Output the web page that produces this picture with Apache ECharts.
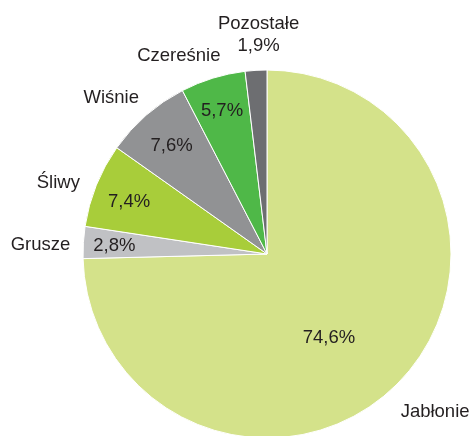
<!DOCTYPE html>
<html>
<head>
<meta charset="utf-8">
<script src="https://cdn.jsdelivr.net/npm/echarts@6/dist/echarts.min.js"></script>
<style>
  html, body { margin: 0; padding: 0; background: #fff; }
  #chart { width: 472px; height: 436px; }
</style>
</head>
<body>
<div id="chart"></div>
<script>
// udział drzew owocowych
var categories = ["Jabłonie", "Grusze", "Śliwy", "Wiśnie", "Czereśnie", "Pozostałe"];
var values = [74.6, 2.8, 7.4, 7.6, 5.7, 1.9];
var colors = ["#d4e28a", "#c0c1c4", "#a8cd3a", "#919294", "#4fb848", "#6d6e71"];

// drobne przesunięcia etykiet względem środka kąta
var pctOffsets = [[-6, 18], [0, 2], [4, 5], [5, 7], [0, 3], [0, 0]];
var nameOffsets = [[7, 1], [-2, 5], [0, 13], [-8, 14], [-22, 17], [5, 6]];

var center = [267, 254];
var R = 184;
var font = { fontFamily: "Liberation Sans, Arial, sans-serif", fontSize: 18.5, color: "#231f20" };

function fmt(v) {
  return String(v).replace(".", ",") + "%";
}

var pieData = categories.map(function (name, i) {
  return {
    name: name,
    value: values[i],
    itemStyle: { color: colors[i] },
    label: { show: i === 0, offset: pctOffsets[i] }
  };
});

// przezroczyste kopie do etykiet
function ghost(showFn, offsets) {
  return categories.map(function (name, i) {
    return {
      name: name,
      value: values[i],
      itemStyle: { color: "rgba(0,0,0,0)", borderWidth: 0 },
      label: { show: showFn(i), offset: offsets[i] }
    };
  });
}

var chart = echarts.init(document.getElementById("chart"));
chart.setOption({
  animation: false,
  series: [
    {
      type: "pie",
      center: center,
      radius: [0, R],
      startAngle: 90,
      clockwise: true,
      silent: true,
      avoidLabelOverlap: false,
      labelLayout: { hideOverlap: false },
      itemStyle: { borderColor: "#fff", borderWidth: 1 },
      label: Object.assign({ position: "inside" }, font, {
        formatter: function (p) { return fmt(p.value); }
      }),
      labelLine: { show: false },
      data: pieData
    },
    {
      // procenty małych wycinków
      type: "pie",
      center: center,
      radius: [0, 300],
      startAngle: 90,
      silent: true,
      avoidLabelOverlap: false,
      labelLayout: { hideOverlap: false },
      z: 3,
      label: Object.assign({ position: "inside" }, font, {
        formatter: function (p) { return fmt(p.value); }
      }),
      labelLine: { show: false },
      data: ghost(function (i) { return i > 0 && i < 5; }, pctOffsets)
    },
    {
      // nazwy na zewnątrz
      type: "pie",
      center: center,
      radius: [0, 444],
      startAngle: 90,
      silent: true,
      avoidLabelOverlap: false,
      labelLayout: { hideOverlap: false },
      z: 3,
      label: Object.assign({ position: "inside", lineHeight: 22 }, font, {
        formatter: function (p) {
          return p.name === "Pozostałe" ? p.name + "\n" + fmt(p.value) : p.name;
        }
      }),
      labelLine: { show: false },
      data: ghost(function () { return true; }, nameOffsets)
    }
  ]
});
</script>
</body>
</html>
